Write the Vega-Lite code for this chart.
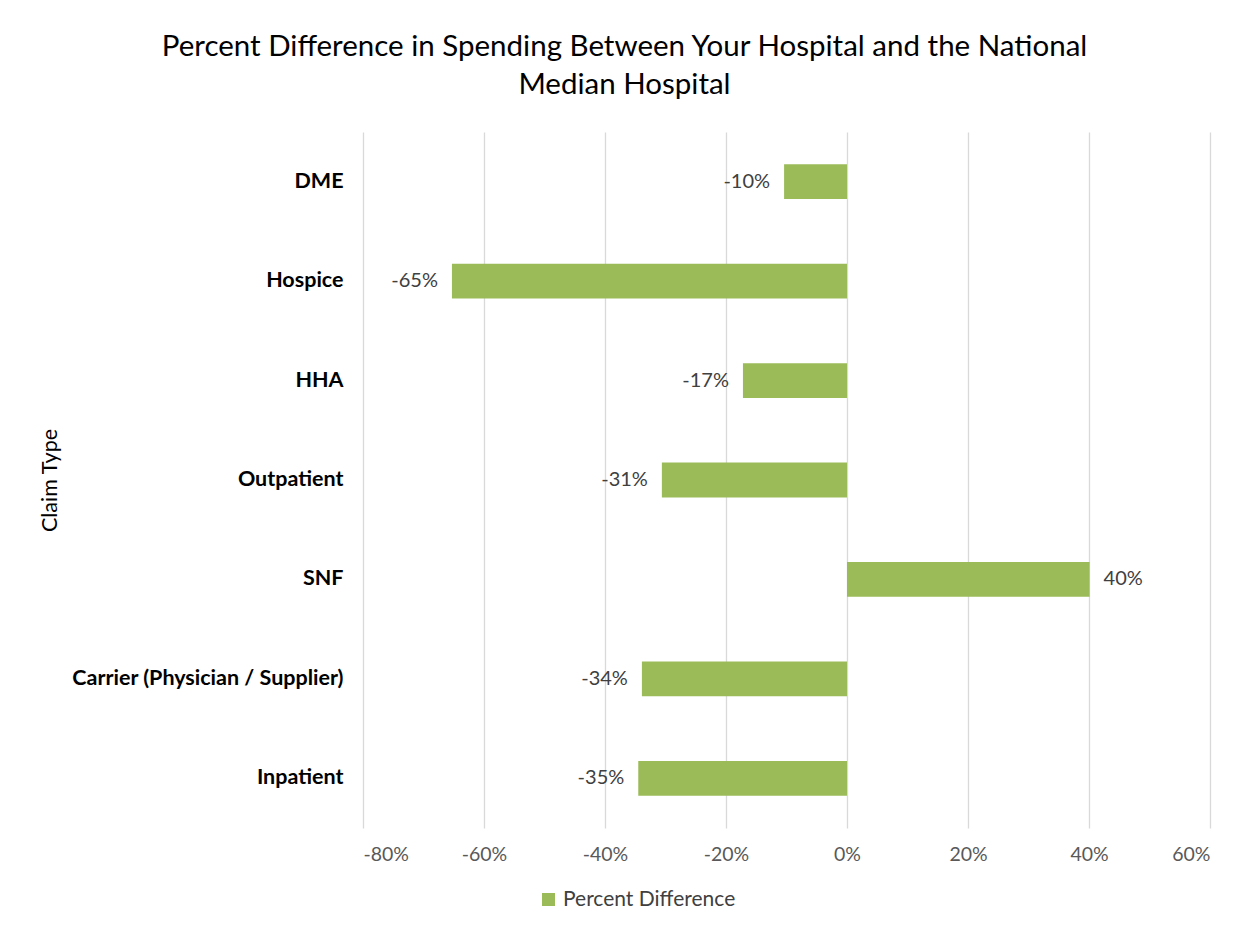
{
  "$schema": "https://vega.github.io/schema/vega-lite/v6.json",
  "width": 847,
  "height": 696,
  "padding": {"left": 39, "top": 31, "right": 20, "bottom": 20},
  "background": "white",
  "title": {
    "text": ["Percent Difference in Spending Between Your Hospital and the National", "Median Hospital"],
    "font": "Lato",
    "fontSize": 29.5,
    "fontWeight": "normal",
    "color": "#000000",
    "anchor": "middle",
    "frame": "bounds",
    "lineHeight": 38,
    "offset": 32
  },
  "data": {
    "values": [
      {"claim": "DME", "pct": -0.104, "series": "Percent Difference"},
      {"claim": "Hospice", "pct": -0.653, "series": "Percent Difference"},
      {"claim": "HHA", "pct": -0.172, "series": "Percent Difference"},
      {"claim": "Outpatient", "pct": -0.306, "series": "Percent Difference"},
      {"claim": "SNF", "pct": 0.401, "series": "Percent Difference"},
      {"claim": "Carrier (Physician / Supplier)", "pct": -0.339, "series": "Percent Difference"},
      {"claim": "Inpatient", "pct": -0.345, "series": "Percent Difference"}
    ]
  },
  "encoding": {
    "y": {
      "field": "claim",
      "type": "nominal",
      "sort": null,
      "title": "Claim Type",
      "scale": {"paddingInner": 0.65, "paddingOuter": 0.325},
      "axis": {
        "domain": false,
        "ticks": false,
        "labelFont": "Lato",
        "labelFontSize": 21.5,
        "labelFontWeight": "bold",
        "labelColor": "#000000",
        "labelPadding": 20,
        "labelLimit": 500,
        "titleFont": "Lato",
        "titleFontSize": 21.5,
        "titleFontWeight": "normal",
        "titleColor": "#000000",
        "titleX": -313,
        "titleBaseline": "middle"
      }
    }
  },
  "layer": [
    {
      "mark": {"type": "bar", "color": "#9BBB59"},
      "encoding": {
        "x": {
          "field": "pct",
          "type": "quantitative",
          "title": null,
          "scale": {"domain": [-0.8, 0.6], "nice": false},
          "axis": {
            "values": [-0.8, -0.6, -0.4, -0.2, 0, 0.2, 0.4, 0.6],
            "format": ".0%",
            "domain": false,
            "ticks": false,
            "grid": true,
            "gridColor": "#D9D9D9",
            "gridWidth": 1.3,
            "labelFont": "Lato",
            "labelFontSize": 19.5,
            "labelColor": "#595959",
            "labelPadding": 17
          }
        },
        "color": {
          "field": "series",
          "type": "nominal",
          "scale": {"range": ["#9BBB59"]},
          "legend": {
            "title": null,
            "orient": "none",
            "legendX": 175,
            "legendY": 757,
            "symbolType": "square",
            "symbolSize": 170,
            "symbolStrokeWidth": 0,
            "labelFont": "Lato",
            "labelFontSize": 21,
            "labelLimit": 400,
            "labelColor": "#404040",
            "labelOffset": 4
          }
        }
      }
    },
    {
      "transform": [{"filter": "datum.pct < 0"}],
      "mark": {"type": "text", "align": "right", "baseline": "middle", "dx": -14, "font": "Lato", "fontSize": 20, "color": "#404040"},
      "encoding": {
        "x": {"field": "pct", "type": "quantitative"},
        "text": {"field": "pct", "type": "quantitative", "format": ".0%"}
      }
    },
    {
      "transform": [{"filter": "datum.pct >= 0"}],
      "mark": {"type": "text", "align": "left", "baseline": "middle", "dx": 14, "font": "Lato", "fontSize": 20, "color": "#404040"},
      "encoding": {
        "x": {"field": "pct", "type": "quantitative"},
        "text": {"field": "pct", "type": "quantitative", "format": ".0%"}
      }
    }
  ],
  "config": {
    "view": {"stroke": null},
    "locale": {
      "number": {
        "decimal": ".",
        "thousands": ",",
        "grouping": [3],
        "currency": ["$", ""],
        "minus": "-",
        "percent": "%"
      }
    }
  }
}
